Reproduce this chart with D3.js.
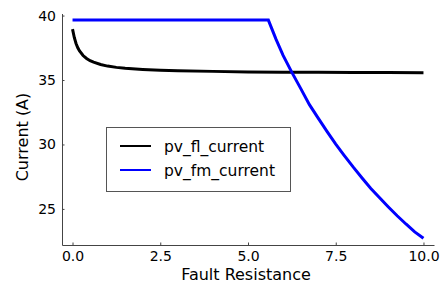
<!DOCTYPE html>
<html><head><meta charset="utf-8">
<script src="https://cdn.jsdelivr.net/npm/d3@7"></script>
<style>body{margin:0;background:#fff}svg{display:block}text{font-family:"DejaVu Sans",sans-serif;fill:#000}</style>
</head><body><svg id="c" width="448" height="285"></svg>
<script>
const flX = [0, 0.05, 0.1, 0.15, 0.2, 0.3, 0.4, 0.5, 0.6, 0.8, 1.0, 1.25, 1.5, 2.0, 2.5, 3.0, 4.0, 5.0, 6.0, 7.0, 8.0, 9.0, 10.0];
const flY = [38.95, 38.3, 37.83, 37.5, 37.25, 36.9, 36.67, 36.5, 36.38, 36.2, 36.08, 35.98, 35.91, 35.82, 35.76, 35.72, 35.67, 35.63, 35.61, 35.60, 35.59, 35.58, 35.57];
const fmX = [0, 5.58, 5.8, 6.0, 6.25, 6.5, 6.75, 7.0, 7.25, 7.5, 7.75, 8.0, 8.25, 8.5, 8.75, 9.0, 9.25, 9.5, 9.75, 10.0];
const fmY = [39.65, 39.65, 38.15, 36.91, 35.59, 34.35, 33.09, 32.04, 31.02, 30.03, 29.12, 28.24, 27.40, 26.59, 25.86, 25.15, 24.47, 23.83, 23.22, 22.73];
const xTicks = [0, 2.5, 5, 7.5, 10];
const yTicks = [25, 30, 35, 40];
const seriesNames = ["pv_fl_current", "pv_fm_current"];
const seriesColors = ["#000000", "#0000ff"];

const svg = d3.select("#c");
const x = d3.scaleLinear().domain([-0.3, 10.3]).range([62, 434]);
const y = d3.scaleLinear().domain([22.2, 40.16]).range([245, 13.5]);

const axisCol = "#444";
// y axis
const gy = svg.append("g").attr("transform", "translate(62,0)")
  .call(d3.axisLeft(y).tickValues(yTicks).tickFormat(d3.format("d")).tickSizeInner(-2.5).tickSizeOuter(0).tickPadding(6));
gy.select(".domain").attr("stroke", axisCol);
gy.selectAll(".tick line").attr("stroke", axisCol);
gy.selectAll("text").style("font-size", "14px").style("font-family", "DejaVu Sans");
// x axis
const gx = svg.append("g").attr("transform", "translate(0,245)")
  .call(d3.axisBottom(x).tickValues(xTicks).tickFormat(d3.format(".1f")).tickSizeInner(-2.5).tickSizeOuter(0).tickPadding(6));
gx.select(".domain").attr("stroke", axisCol);
gx.selectAll(".tick line").attr("stroke", axisCol);
gx.selectAll("text").style("font-size", "14px").style("font-family", "DejaVu Sans");

const clipId = "clp";
svg.append("clipPath").attr("id", clipId).append("rect")
  .attr("x", 62).attr("y", 13.5).attr("width", 372).attr("height", 231.5);

const line = d3.line().x(d => x(d[0])).y(d => y(d[1]));
const g = svg.append("g").attr("clip-path", `url(#${clipId})`);
g.append("path").datum(flX.map((v, i) => [v, flY[i]]))
  .attr("d", line).attr("fill", "none").attr("stroke", seriesColors[0]).attr("stroke-width", 3);
g.append("path").datum(fmX.map((v, i) => [v, fmY[i]]))
  .attr("d", line).attr("fill", "none").attr("stroke", seriesColors[1]).attr("stroke-width", 3);

// axis labels
svg.append("text").attr("x", 246).attr("y", 280).attr("text-anchor", "middle")
  .style("font-size", "16px").text("Fault Resistance");
svg.append("text").attr("transform", "translate(28,137) rotate(-90)").attr("text-anchor", "middle")
  .style("font-size", "16px").text("Current (A)");

// legend
const lg = svg.append("g");
lg.append("rect").attr("x", 106.5).attr("y", 127.5).attr("width", 184).attr("height", 64)
  .attr("fill", "#fff").attr("stroke", "#555").attr("stroke-width", 1);
seriesNames.forEach((n, i) => {
  const yy = 146 + i * 24;
  lg.append("line").attr("x1", 120).attr("x2", 151).attr("y1", yy).attr("y2", yy)
    .attr("stroke", seriesColors[i]).attr("stroke-width", 2);
  lg.append("text").attr("x", 164).attr("y", yy + 5.5).style("font-size", "15.5px").text(n);
});
</script></body></html>
